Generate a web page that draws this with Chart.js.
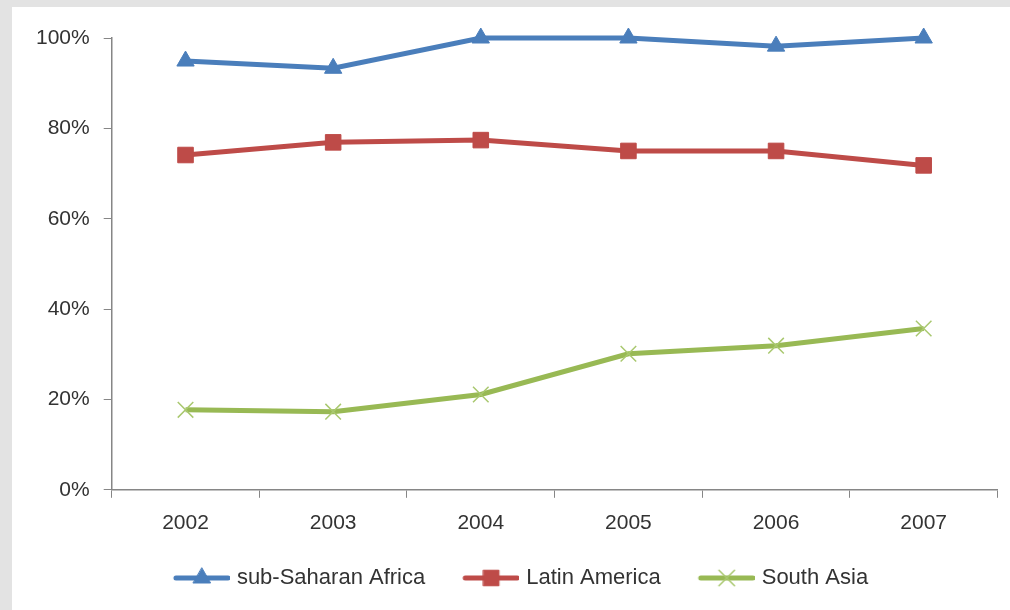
<!DOCTYPE html>
<html>
<head>
<meta charset="utf-8">
<script src="https://cdn.jsdelivr.net/npm/chart.js"></script>
<style>
  body { margin: 0; background: #e3e3e3; width: 1010px; height: 610px; overflow: hidden; }
  #box { position: absolute; left: 12px; top: 7px; width: 998px; height: 603px; background: #fff; }
</style>
</head>
<body>
<div id="box"><canvas id="graf" width="998" height="603"></canvas></div>
<script>
const years = ['2002', '2003', '2004', '2005', '2006', '2007'];
const africa = [0.949, 0.933, 1.0, 1.0, 0.982, 1.0];
const latin = [0.741, 0.769, 0.774, 0.750, 0.750, 0.718];
const asia = [0.177, 0.173, 0.211, 0.301, 0.319, 0.357];
const yTicks = [0, 0.2, 0.4, 0.6, 0.8, 1.0];

const blue = '#4a7ebb', red = '#be4b48', green = '#98b954';
const txt = '#333333';
const font = "'Liberation Sans', Arial, sans-serif";

// legend sample: line with the marker in the middle (left side of the image is empty on purpose, it spaces the items)
function legendIcon(color, style, radius, markerColor, markerWidth) {
  const c = document.createElement('canvas');
  c.width = 80; c.height = 26;
  const g = c.getContext('2d');
  g.strokeStyle = color;
  g.lineWidth = 5;
  g.lineCap = 'round';
  g.beginPath(); g.moveTo(26, 13); g.lineTo(78, 13); g.stroke();
  g.fillStyle = markerColor;
  g.strokeStyle = markerColor;
  g.lineWidth = markerWidth;
  Chart.helpers.drawPoint(g, {pointStyle: style, radius: radius, rotation: 0, borderWidth: markerWidth}, 52, 13);
  return c;
}

const icons = [
  legendIcon(blue, 'triangle', 10, blue, 1),
  legendIcon(red, 'rect', 11, red, 1),
  legendIcon(green, 'crossRot', 11, '#a9c86f', 1.5)
];

const ctx = document.querySelector('#graf').getContext('2d');
const graf = new Chart(ctx, {
  type: 'line',
  data: {
    labels: years,
    datasets: [{
      label: 'sub-Saharan Africa',
      data: africa,
      borderColor: blue,
      backgroundColor: blue,
      borderWidth: 5,
      pointStyle: 'triangle',
      pointRadius: 10,
      pointBorderWidth: 1
    }, {
      label: 'Latin America',
      data: latin,
      borderColor: red,
      backgroundColor: red,
      borderWidth: 5,
      pointStyle: 'rect',
      pointRadius: 11,
      pointBorderWidth: 1
    }, {
      label: 'South Asia',
      data: asia,
      borderColor: green,
      backgroundColor: green,
      borderWidth: 5,
      pointStyle: 'crossRot',
      pointRadius: 11,
      pointBorderColor: '#a9c86f',
      pointBorderWidth: 1.5
    }]
  },
  options: {
    responsive: false,
    animation: false,
    clip: false,
    tension: 0,
    layout: { padding: { left: 10, right: 10, top: 31, bottom: 11 } },
    plugins: {
      tooltip: { enabled: false },
      legend: {
        position: 'bottom',
        labels: {
          usePointStyle: true,
          pointStyleWidth: 72,
          padding: 18,
          color: txt,
          font: { family: font, size: 22 },
          generateLabels: function (chart) {
            return chart.data.datasets.map((d, i) => ({
              text: d.label,
              pointStyle: icons[i],
              fillStyle: d.borderColor,
              strokeStyle: d.borderColor,
              lineWidth: 0,
              fontColor: txt,
              datasetIndex: i,
              hidden: false
            }));
          }
        }
      }
    },
    scales: {
      x: {
        offset: true,
        grid: { offset: true, drawOnChartArea: false, drawTicks: true, tickLength: 8, color: '#868686' },
        border: { color: '#868686', width: 1.5 },
        ticks: { color: txt, padding: 13, font: { family: font, size: 21 } }
      },
      y: {
        min: 0,
        max: 1,
        afterBuildTicks: function (axis) { axis.ticks = yTicks.map(v => ({ value: v })); },
        grid: { drawOnChartArea: false, drawTicks: true, tickLength: 8, color: '#868686' },
        border: { color: '#868686', width: 1.5 },
        ticks: {
          color: txt,
          padding: 14,
          font: { family: font, size: 21 },
          callback: v => Math.round(v * 100) + '%'
        }
      }
    }
  }
});
</script>
</body>
</html>
